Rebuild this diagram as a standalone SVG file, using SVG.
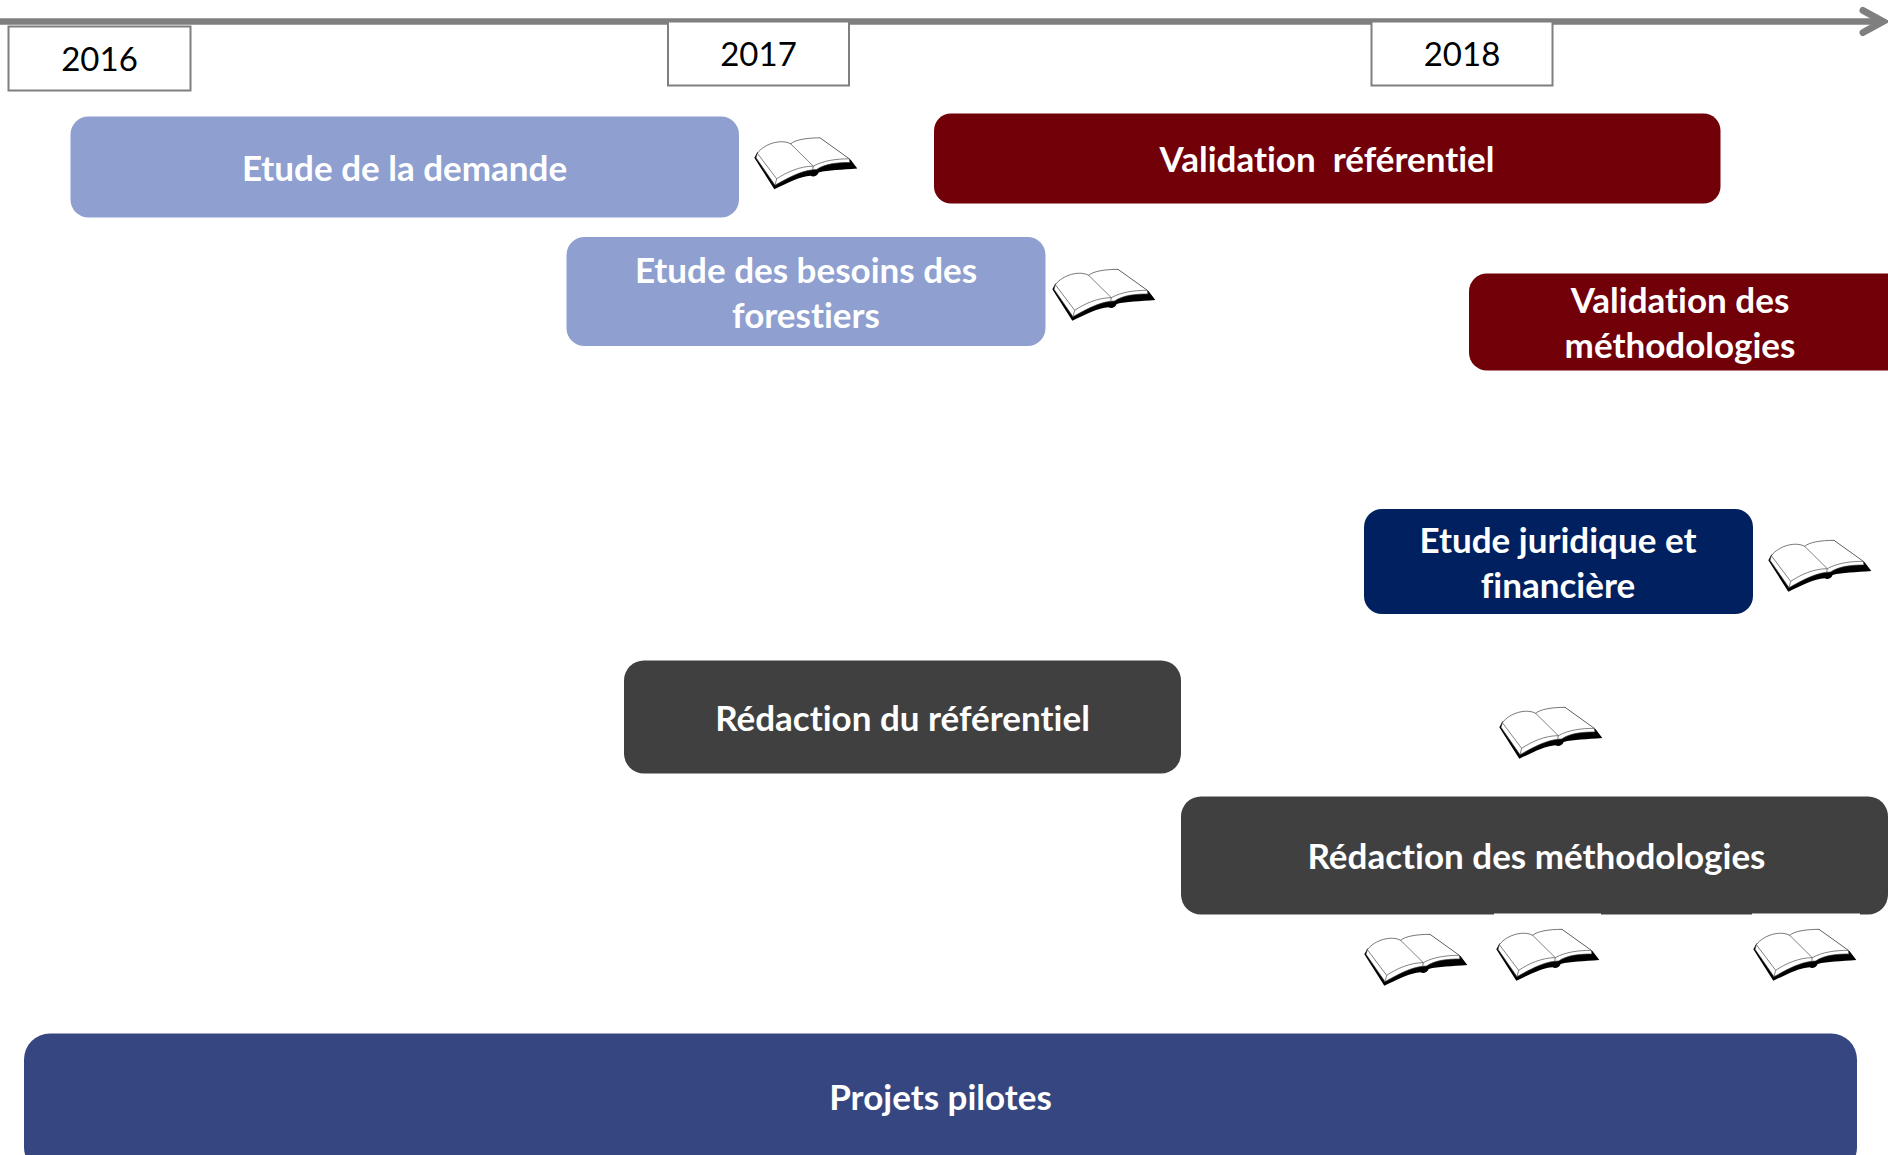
<svg xmlns="http://www.w3.org/2000/svg" xmlns:xlink="http://www.w3.org/1999/xlink" width="1888" height="1155" viewBox="0 0 1888 1155">
<style>
text{font-family:Lato,"Liberation Sans",sans-serif;text-anchor:middle;font-variant-ligatures:none}
.y rect{fill:#fff;stroke:#7f7f7f;stroke-width:2}
.y text{font-size:33px;fill:#000}
.t{font-size:35px;font-weight:700;fill:#fff}
.lb{fill:#8e9fd0}.dr{fill:#720008}.nv{fill:#002060}.gr{fill:#404040}.pp{fill:#364680}
</style>
<defs>
<marker id="ah" markerUnits="userSpaceOnUse" markerWidth="30" markerHeight="34" refX="26" refY="17" orient="auto">
<path d="M5,6 L25,17 L5,28" fill="none" stroke="#7f7f7f" stroke-width="7" stroke-linecap="round" stroke-linejoin="miter"/>
</marker>
<g id="book" transform="scale(.3333)">
<path d="M103,172 L163,266 C205,247 240,228 272,226 C280,232 292,226 296,216 C325,208 365,208 412,204 L392,178 L300,112 L210,130 L112,155 Z" fill="#000"/>
<path d="M112,158 C135,128 185,115 212,130 C225,118 260,112 300,112 L388,175 L390,186 C350,186 315,190 290,207 L278,208 C240,212 200,235 165,254 L108,172 Z" fill="#fff" stroke="#333" stroke-width="2" stroke-linejoin="round"/>
<path d="M112,158 L170,235 C200,215 240,197 280,197 C310,180 350,175 388,175 M212,130 L280,197 M170,235 L165,254 M280,197 L278,208" fill="none" stroke="#444" stroke-width="2"/>
</g>
</defs>
<g id="connectors">
<line x1="0" y1="21.5" x2="1884" y2="21.5" stroke="#7f7f7f" stroke-width="6.5" marker-end="url(#ah)"/>
</g>
<g id="year-2016" class="y"><rect x="8.5" y="26.5" width="182" height="64"/><text x="99.5" y="71">2016</text></g>
<g id="year-2017" class="y"><rect x="668" y="21.5" width="181" height="64"/><text x="758.5" y="66">2017</text></g>
<g id="year-2018" class="y"><rect x="1371.5" y="21.5" width="181" height="64"/><text x="1462" y="66">2018</text></g>
<g id="etude-demande"><rect class="lb" x="70.5" y="116.5" width="668.500" height="101" rx="18"/><text class="t" x="404.500" y="181">Etude de la demande</text></g>
<g id="validation-referentiel"><rect class="dr" x="934" y="113.500" width="786.500" height="90" rx="17"/><text class="t" x="1327" y="172" xml:space="preserve">Validation  référentiel</text></g>
<g id="etude-besoins"><rect class="lb" x="566.500" y="237" width="479" height="109" rx="18"/><text class="t" x="806" y="283">Etude des besoins des</text><text class="t" x="806" y="328">forestiers</text></g>
<g id="validation-methodologies"><rect class="dr" x="1469" y="273.500" width="440" height="97" rx="18"/><text class="t" x="1680" y="313">Validation des</text><text class="t" x="1680" y="358">méthodologies</text></g>
<g id="etude-juridique"><rect class="nv" x="1364" y="509" width="389" height="105" rx="18"/><text class="t" x="1558" y="553">Etude juridique et</text><text class="t" x="1558" y="598">financière</text></g>
<g id="redaction-referentiel"><rect class="gr" x="624" y="660.500" width="557" height="113" rx="20"/><text class="t" x="902.500" y="731">Rédaction du référentiel</text></g>
<g id="redaction-methodologies"><rect class="gr" x="1181" y="796.500" width="707" height="118" rx="20"/><text class="t" x="1536.500" y="869">Rédaction des méthodologies</text></g>
<g id="projets-pilotes"><rect class="pp" x="24" y="1033.500" width="1833" height="140" rx="26"/><text class="t" x="940.500" y="1110">Projets pilotes</text></g>
<g id="book-1"><use xlink:href="#book" href="#book" transform="translate(720,100.500)"/></g>
<g id="book-2"><use xlink:href="#book" href="#book" transform="translate(1018,232)"/></g>
<g id="book-3"><use xlink:href="#book" href="#book" transform="translate(1734,503)"/></g>
<g id="book-4"><use xlink:href="#book" href="#book" transform="translate(1465,670)"/></g>
<g id="book-5"><use xlink:href="#book" href="#book" transform="translate(1330,897)"/></g>
<g id="book-6"><rect x="1494" y="913.500" width="107" height="3" fill="#fff"/><use xlink:href="#book" href="#book" transform="translate(1462,892)"/></g>
<g id="book-7"><rect x="1752" y="913.500" width="108" height="3" fill="#fff"/><use xlink:href="#book" href="#book" transform="translate(1719,892)"/></g>
</svg>
